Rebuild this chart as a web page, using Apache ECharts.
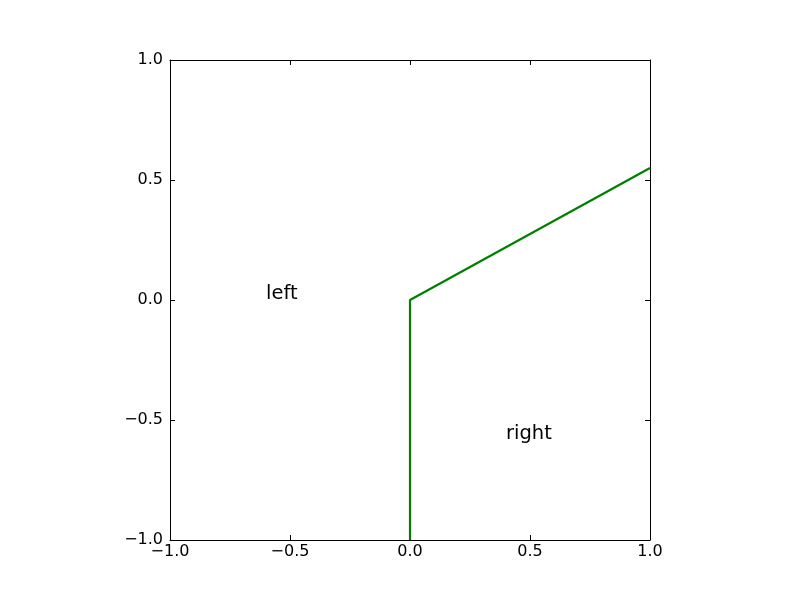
<!DOCTYPE html>
<html><head><meta charset="utf-8">
<script src="https://cdn.jsdelivr.net/npm/echarts@6/dist/echarts.min.js"></script>
<style>html,body{margin:0;padding:0;background:#fff}#c{width:800px;height:600px}</style>
</head><body><div id="c"></div>
<script>
const lineX = [0, 0, 1];
const lineY = [-1, 0, 0.55];
const textLabels = ['left', 'right'];
const textX = [-0.6, 0.4];
const textY = [0, -0.585];
const axisMin = -1, axisMax = 1, axisStep = 0.5;

const fmt = v => (v < 0 ? '\u2212' : '') + Math.abs(v).toFixed(1);
const font = 'DejaVu Sans';
const baseAxis = {
  type: 'value', min: axisMin, max: axisMax, interval: axisStep,
  axisLine: { show: true, onZero: false, lineStyle: { color: '#000', width: 1 } },
  axisTick: { show: true, inside: true, length: 5, lineStyle: { color: '#000', width: 1 } },
  splitLine: { show: false },
  axisLabel: { show: true, formatter: fmt, color: '#000', fontFamily: font, fontSize: 16 }
};
const chart = echarts.init(document.getElementById('c'), null, { renderer: 'canvas' });
chart.setOption({
  animation: false,
  backgroundColor: '#fff',
  grid: { left: 170, top: 60, width: 480, height: 480, show: false },
  xAxis: [
    Object.assign({}, baseAxis, { position: 'bottom', axisLabel: Object.assign({}, baseAxis.axisLabel, { margin: 4 }) }),
    Object.assign({}, baseAxis, { position: 'top', axisLabel: { show: false } })
  ],
  yAxis: [
    Object.assign({}, baseAxis, { position: 'left', axisLabel: Object.assign({}, baseAxis.axisLabel, { margin: 7 }) }),
    Object.assign({}, baseAxis, { position: 'right', axisLabel: { show: false } })
  ],
  series: [
    {
      type: 'line', xAxisIndex: 0, yAxisIndex: 0,
      data: lineX.map((x, i) => [x, lineY[i]]),
      symbol: 'none', lineStyle: { color: '#008000', width: 2.2 }, itemStyle: { color: '#008000' }
    },
    {
      type: 'scatter', xAxisIndex: 0, yAxisIndex: 0, symbolSize: 0,
      itemStyle: { opacity: 1, color: '#000' },
      data: textLabels.map((t, i) => ({ name: t, value: [textX[i], textY[i]] })),
      label: {
        show: true, position: [0, 0], formatter: p => p.name, align: 'left', verticalAlign: 'bottom',
        offset: [0, 4], color: '#000', opacity: 1, textBorderWidth: 0, fontFamily: font, fontSize: 19.5
      }
    }
  ]
});
</script></body></html>
